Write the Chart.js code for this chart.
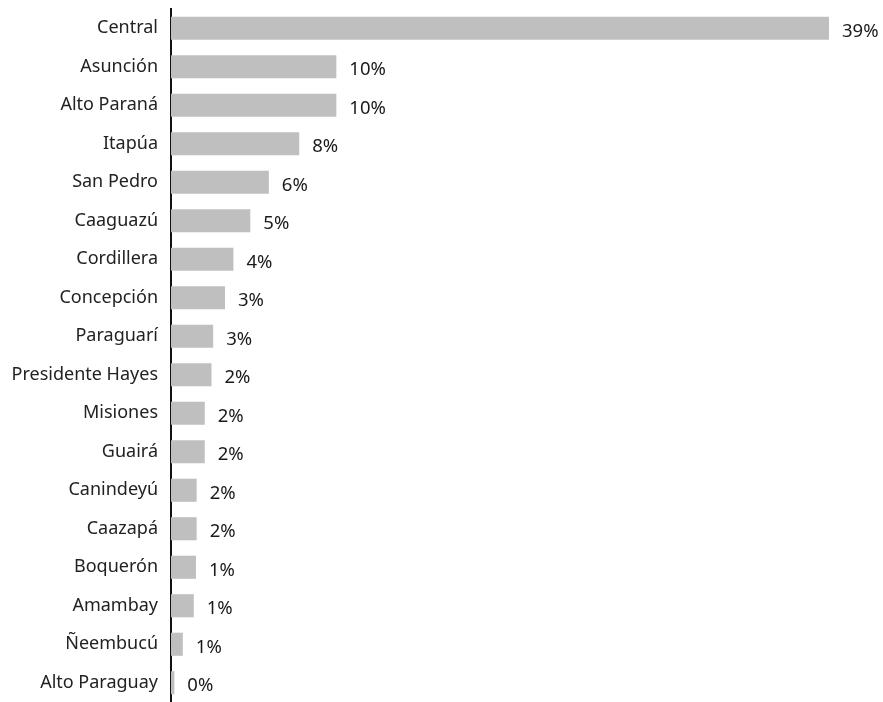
<!DOCTYPE html>
<html>
<head>
<meta charset="utf-8">
<script src="https://cdn.jsdelivr.net/npm/chart.js@4/dist/chart.umd.min.js"></script>
<style>
    body { margin: 0; background: #fff; }
    #wrap { width: 883px; height: 702px; position: relative; }
</style>
</head>
<body>
<div id="wrap"><canvas id="deptChart"></canvas></div>
<script>
// share by department, in percent
const departments = [
    'Central', 'Asunción', 'Alto Paraná', 'Itapúa', 'San Pedro', 'Caaguazú',
    'Cordillera', 'Concepción', 'Paraguarí', 'Presidente Hayes', 'Misiones',
    'Guairá', 'Canindeyú', 'Caazapá', 'Boquerón', 'Amambay', 'Ñeembucú',
    'Alto Paraguay'
];
const shares = [
    39.0, 9.8, 9.8, 7.6, 5.8, 4.7,
    3.7, 3.2, 2.5, 2.4, 2.0,
    2.0, 1.52, 1.52, 1.48, 1.35, 0.7,
    0.2
];
const axisMax = 39;

const fontFamily = '"Noto Sans", "Open Sans", sans-serif';

// value label to the right of every bar
const barLabels = {
    id: 'barLabels',
    afterDatasetsDraw(chart) {
        const ctx = chart.ctx;
        const meta = chart.getDatasetMeta(0);
        ctx.save();
        ctx.font = '18.5px ' + fontFamily;
        ctx.fillStyle = '#1a1a1a';
        ctx.textAlign = 'left';
        ctx.textBaseline = 'middle';
        meta.data.forEach(function(bar, i) {
            const text = Math.round(shares[i]) + '%';
            ctx.fillText(text, bar.x + 13, bar.y + 3);
        });
        ctx.restore();
    }
};

const ctx = document.getElementById('deptChart').getContext('2d');
new Chart(ctx, {
    type: 'bar',
    data: {
        labels: departments,
        datasets: [{
            data: shares,
            backgroundColor: '#bfbfc0',
            borderWidth: 0,
            barPercentage: 0.6,
            categoryPercentage: 1.0
        }]
    },
    options: {
        indexAxis: 'y',
        responsive: true,
        maintainAspectRatio: false,
        animation: false,
        layout: {
            padding: { top: 9, right: 54, bottom: 0, left: 0 }
        },
        plugins: {
            legend: { display: false },
            tooltip: { enabled: false }
        },
        scales: {
            x: {
                display: false,
                min: 0,
                max: axisMax
            },
            y: {
                afterFit: function(scale) {
                    scale.width = 171;
                    scale.paddingTop = 0;
                    scale.paddingBottom = 0;
                },
                grid: { display: false, drawTicks: false },
                border: { display: true, color: '#111', width: 2 },
                ticks: {
                    color: '#222',
                    padding: 13,
                    font: { family: fontFamily, size: 18 }
                }
            }
        }
    },
    plugins: [barLabels]
});
</script>
</body>
</html>
